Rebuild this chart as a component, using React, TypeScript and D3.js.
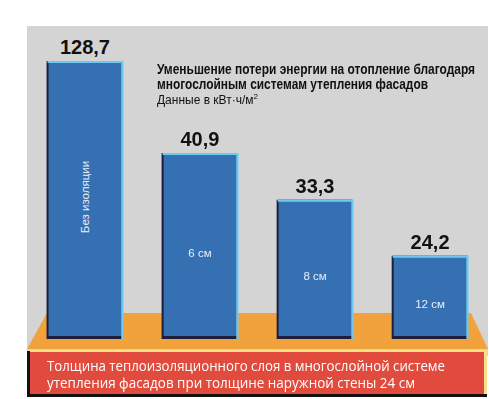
import { useEffect, useRef } from "react";
import * as d3 from "d3";

const categories = ["Без изоляции", "6 см", "8 см", "12 см"];
const values = [128.7, 40.9, 33.3, 24.2];
const valueLabels = ["128,7", "40,9", "33,3", "24,2"];
const titleLines = [
  "Уменьшение потери энергии на отопление благодаря",
  "многослойным системам утепления фасадов",
];
const footerLines = [
  "Толщина теплоизоляционного слоя в многослойной системе",
  "утепления фасадов при толщине наружной стены 24 см",
];

const App = () => {
  const svgRef = useRef<SVGSVGElement>(null);

  useEffect(() => {
    if (!svgRef.current) return;
    const svg = d3.select(svgRef.current);
    svg.selectAll("*").remove();

    const width = 489;
    const height = 399;
    svg.attr("width", width).attr("height", height);

    const bottom = 337;

    // the picture is not drawn to scale: the tall bar is compressed
    const y = d3.scaleLinear().domain([11, 40.9, 128.7]).range([bottom, 153, 61]);
    const x = d3
      .scaleBand<string>()
      .domain(categories)
      .range([28, 487])
      .paddingInner(0.35)
      .paddingOuter(0.17);

    // background panel
    svg.append("rect").attr("x", 27).attr("y", 26).attr("width", 461).attr("height", 330).attr("fill", "#d4d4d4");

    // orange floor
    svg
      .append("path")
      .attr("d", "M47,313 L471,313 L488,349 L27,349 Z")
      .attr("fill", "#f2a23c");

    // bars
    const bars = svg
      .selectAll("g.bar")
      .data(values)
      .enter()
      .append("g")
      .attr("class", "bar");

    bars
      .append("rect")
      .attr("x", (d, i) => x(categories[i])! - 1)
      .attr("y", (d) => y(d))
      .attr("width", x.bandwidth() + 1)
      .attr("height", (d) => bottom - y(d) + 2)
      .attr("fill", "#1b1f3c");

    bars
      .append("rect")
      .attr("x", (d, i) => x(categories[i])! + 1)
      .attr("y", (d) => y(d))
      .attr("width", x.bandwidth() - 1)
      .attr("height", (d) => bottom - y(d) - 1)
      .attr("fill", "#3570b3");

    // light top and right edge
    bars
      .append("path")
      .attr("d", (d, i) => {
        const x0 = x(categories[i])!;
        const x1 = x0 + x.bandwidth();
        return `M${x0},${y(d) + 1} L${x1},${y(d) + 1} L${x1},${bottom + 2}`;
      })
      .attr("fill", "none")
      .attr("stroke", "#6ec8f2")
      .attr("stroke-width", 2.2);

    // value labels
    bars
      .append("text")
      .attr("x", (d, i) => x(categories[i])! + x.bandwidth() / 2)
      .attr("y", (d) => y(d) - 7)
      .attr("text-anchor", "middle")
      .attr("font-family", "Liberation Sans, Arial, sans-serif")
      .attr("font-weight", "bold")
      .attr("font-size", 20)
      .attr("fill", "#111")
      .text((d, i) => valueLabels[i]);

    // category labels inside bars
    bars.each(function (d, i) {
      const g = d3.select(this);
      const cx = x(categories[i])! + x.bandwidth() / 2;
      const cy = (y(d) + bottom) / 2;
      const t = g
        .append("text")
        .attr("text-anchor", "middle")
        .attr("dominant-baseline", "central")
        .attr("font-family", "Liberation Sans, Arial, sans-serif")
        .attr("font-size", 11.5)
        .attr("fill", "#e8eef8")
        .text(categories[i]);
      if (i === 0) t.attr("transform", `translate(${cx},${cy - 2}) rotate(-90)`);
      else t.attr("x", cx).attr("y", cy + 8);
    });

    // title
    const titleWidths = [318, 271];
    titleLines.forEach((line, i) => {
      svg
        .append("text")
        .attr("x", 157)
        .attr("y", 74 + i * 14.5)
        .attr("font-family", "Liberation Sans Narrow, Liberation Sans, Arial, sans-serif")
        .attr("font-weight", "bold")
        .attr("font-size", 14)
        .attr("textLength", titleWidths[i])
        .attr("lengthAdjust", "spacingAndGlyphs")
        .attr("fill", "#111")
        .text(line);
    });
    const sub = svg
      .append("text")
      .attr("x", 157)
      .attr("y", 104)
      .attr("font-family", "Liberation Sans Narrow, Liberation Sans, Arial, sans-serif")
      .attr("font-size", 12)
      .attr("textLength", 101)
      .attr("lengthAdjust", "spacingAndGlyphs")
      .attr("fill", "#111");
    sub.append("tspan").text("Данные в кВт·ч/м");
    sub.append("tspan").attr("dy", -5).attr("font-size", 8).text("2");

    // footer box
    svg.append("rect").attr("x", 27).attr("y", 351).attr("width", 460).attr("height", 46).attr("fill", "#111");
    svg.append("rect").attr("x", 30).attr("y", 350).attr("width", 457).attr("height", 44).attr("fill", "#f7e08a");
    svg.append("rect").attr("x", 30).attr("y", 352).attr("width", 454).attr("height", 42).attr("fill", "#e04b3d");

    const footerWidths = [398, 368];
    footerLines.forEach((line, i) => {
      svg
        .append("text")
        .attr("x", 47)
        .attr("y", 371 + i * 16.5)
        .attr("font-family", "Open Sans, Noto Sans, sans-serif")
        .attr("font-size", 14)
        .attr("textLength", footerWidths[i])
        .attr("lengthAdjust", "spacingAndGlyphs")
        .attr("fill", "#fff")
        .text(line);
    });
  }, []);

  return <svg ref={svgRef} style={{ position: "fixed", left: 0, top: 0 }} />;
};

export default App;
